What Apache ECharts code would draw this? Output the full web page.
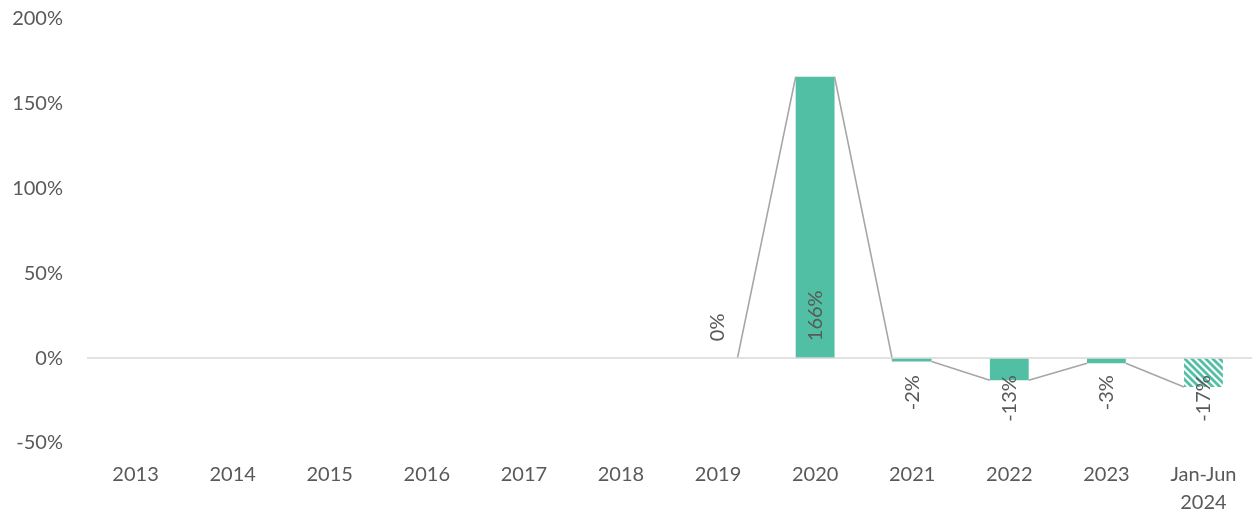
<!DOCTYPE html>
<html>
<head>
<meta charset="utf-8">
<script src="https://cdn.jsdelivr.net/npm/echarts@6/dist/echarts.min.js"></script>
<style>
  html, body { margin: 0; padding: 0; background: #ffffff; }
  #chart { width: 1252px; height: 517px; }
</style>
</head>
<body>
<div id="chart"></div>
<script>
// Year-on-year change, %
const categories = ['2013', '2014', '2015', '2016', '2017', '2018', '2019', '2020', '2021', '2022', '2023', 'Jan-Jun\n2024'];
const changePct = [null, null, null, null, null, null, 0, 166, -2, -13, -3, -17];
const partialYear = [false, false, false, false, false, false, false, false, false, false, false, true];
const yTicks = { min: -50, max: 200, interval: 50 };

const GREEN = '#50bfa4';
const TEXT = '#595959';
const FONT = 'Lato';
const BAR_RATIO = 0.4;

// diagonal hatch for the part-year bar
function hatch() {
  const s = 7;
  const c = document.createElement('canvas');
  c.width = s; c.height = s;
  const g = c.getContext('2d');
  g.fillStyle = '#ffffff';
  g.fillRect(0, 0, s, s);
  g.strokeStyle = GREEN;
  g.lineWidth = 2.8;
  g.beginPath();
  g.moveTo(-s, -s); g.lineTo(2 * s, 2 * s);
  g.moveTo(-s, 0); g.lineTo(s, 2 * s);
  g.moveTo(0, -s); g.lineTo(2 * s, s);
  g.stroke();
  return { image: c, repeat: 'repeat' };
}
const hatchFill = hatch();

const barData = changePct.map((v, i) => v === null ? null : {
  value: v,
  itemStyle: { color: partialYear[i] ? hatchFill : GREEN }
});

// connectors: right edge of previous bar to left edge of the next bar
const linkData = [];
for (let i = 1; i < changePct.length; i++) {
  if (changePct[i] !== null && changePct[i - 1] !== null) {
    linkData.push([i, changePct[i], changePct[i - 1]]);
  }
}

const labelData = [];
changePct.forEach((v, i) => { if (v !== null) labelData.push([i, v]); });

const chart = echarts.init(document.getElementById('chart'), null, { renderer: 'canvas' });
chart.setOption({
  animation: false,
  backgroundColor: '#ffffff',
  grid: { left: 87, right: 0, top: 19, bottom: 72, containLabel: false },
  xAxis: {
    type: 'category',
    data: categories,
    axisLine: { show: false, onZero: false },
    axisTick: { show: false },
    axisLabel: { color: TEXT, fontFamily: FONT, fontSize: 20, lineHeight: 28, margin: 18, interval: 0 }
  },
  yAxis: {
    type: 'value',
    min: yTicks.min, max: yTicks.max, interval: yTicks.interval,
    axisLine: { show: false },
    axisTick: { show: false },
    splitLine: { show: false },
    axisLabel: { color: TEXT, fontFamily: FONT, fontSize: 20, margin: 24, formatter: '{value}%' }
  },
  series: [
    {
      type: 'bar',
      data: barData,
      barWidth: (BAR_RATIO * 100) + '%',
      z: 2,
      markLine: {
        silent: true,
        symbol: 'none',
        label: { show: false },
        lineStyle: { color: '#d9d9d9', width: 1.5, type: 'solid' },
        data: [{ yAxis: 0 }]
      }
    },
    {
      type: 'custom',
      data: linkData,
      z: 3,
      silent: true,
      renderItem: function (params, api) {
        const i = api.value(0);
        const half = api.size([1, 0])[0] * BAR_RATIO / 2;
        const p0 = api.coord([i - 1, api.value(2)]);
        const p1 = api.coord([i, api.value(1)]);
        return {
          type: 'line',
          shape: { x1: p0[0] + half, y1: p0[1], x2: p1[0] - half, y2: p1[1] },
          style: { stroke: '#a6a6a6', lineWidth: 1.6 }
        };
      }
    },
    {
      type: 'custom',
      data: labelData,
      z: 4,
      silent: true,
      renderItem: function (params, api) {
        const v = api.value(1);
        const base = api.coord([api.value(0), 0]);
        const up = v >= 0;
        return {
          type: 'text',
          x: base[0],
          y: base[1] + (up ? -17 : 17),
          rotation: Math.PI / 2,
          style: {
            text: v + '%',
            fill: TEXT,
            font: '20px ' + FONT,
            align: up ? 'left' : 'right',
            verticalAlign: 'middle'
          }
        };
      }
    }
  ]
});
</script>
</body>
</html>
